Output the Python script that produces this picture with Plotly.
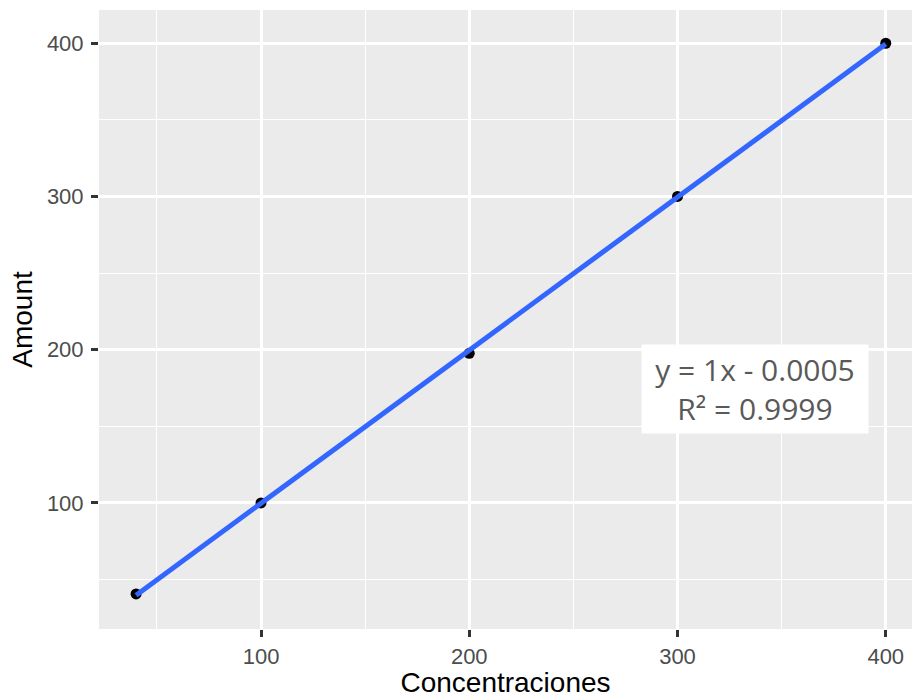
import numpy as np
import plotly.graph_objects as go

# Data
concentraciones = [40, 100, 200, 300, 400]
amount = [40.6, 100, 197.6, 300, 400]
x_ticks = [100, 200, 300, 400]
y_ticks = [100, 200, 300, 400]
x_minor = [50, 150, 250, 350]
y_minor = [50, 150, 250, 350]
eq_text = "y = 1x - 0.0005<br>R² = 0.9999"

# Linear fit (geom_smooth(method="lm") equivalent)
slope, intercept = np.polyfit(concentraciones, amount, 1)
fit_x = [min(concentraciones), max(concentraciones)]
fit_y = [slope * v + intercept for v in fit_x]

fig = go.Figure()
fig.add_trace(go.Scatter(x=concentraciones, y=amount, mode="markers",
                         marker=dict(color="black", size=11),
                         showlegend=False))
fig.add_trace(go.Scatter(x=fit_x, y=fit_y, mode="lines",
                         line=dict(color="#3366FF", width=5),
                         showlegend=False))

tick_font = dict(family="Liberation Sans, Arial, sans-serif", size=22, color="#4D4D4D")
title_font = dict(family="Liberation Sans, Arial, sans-serif", size=28, color="black")

fig.update_layout(
    width=912, height=698,
    margin=dict(l=99, r=0, t=10, b=69),
    paper_bgcolor="white",
    plot_bgcolor="#EBEBEB",
    xaxis=dict(range=[22.2, 412.6], tickvals=x_ticks, ticktext=[str(v) for v in x_ticks],
               showgrid=True, gridcolor="white", gridwidth=2.5, zeroline=False,
               ticks="outside", ticklen=7, tickwidth=2.5, tickcolor="#333333",
               tickfont=tick_font, ticklabelstandoff=1,
               minor=dict(tickvals=x_minor, showgrid=True, gridcolor="white", gridwidth=1.2, ticks=""),
               title=dict(text="Concentraciones", font=title_font, standoff=8),
               showline=False),
    yaxis=dict(range=[17.7, 421.7], tickvals=y_ticks, ticktext=[str(v) for v in y_ticks],
               showgrid=True, gridcolor="white", gridwidth=2.5, zeroline=False,
               ticks="outside", ticklen=7, tickwidth=2.5, tickcolor="#333333",
               tickfont=tick_font, ticklabelstandoff=3,
               minor=dict(tickvals=y_minor, showgrid=True, gridcolor="white", gridwidth=1.2, ticks=""),
               title=dict(text="Amount", font=title_font, standoff=6),
               showline=False),
    annotations=[dict(x=337.3, y=174.5, xref="x", yref="y", text=eq_text,
                      showarrow=False, xanchor="center", yanchor="middle",
                      font=dict(family="Open Sans, sans-serif", size=30, color="#595959"),
                      bgcolor="white", borderpad=4, width=218, align="center")],
)

fig.write_html("out.html")
